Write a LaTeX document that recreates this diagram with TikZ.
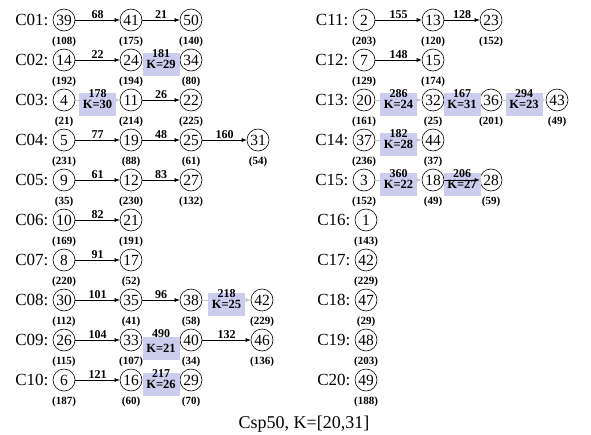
\documentclass[tikz,border=0pt]{standalone}
\usepackage{fontspec}
\setmainfont{Liberation Serif}
\usetikzlibrary{arrows.meta,positioning}
\definecolor{kfill}{RGB}{204,204,238}

\begin{document}
\begin{tikzpicture}[
  x=1pt, y=-1pt, line width=0.6pt,
  vtx/.style={draw, circle, minimum size=22pt, inner sep=0pt, font=\fontsize{15.5}{15.5}\selectfont,
    label={[cost]below:(#1)}},
  cost/.style={inner sep=1pt, label distance=4pt, font=\bfseries\fontsize{11}{11}\selectfont},
  rowlab/.style={inner sep=0pt, font=\fontsize{17}{17}\selectfont},
  arr/.style={-{Latex[length=5pt,width=4pt]}},
  garr/.style={arr, draw=gray!45},
  elab/.style={above, inner sep=1pt, font=\bfseries\fontsize{12}{12}\selectfont},
  klab/.style={above, inner sep=2.5pt, font=\bfseries\fontsize{12}{12}\selectfont},
  kbox/.style={fill=kfill, minimum width=37pt, minimum height=23pt, inner sep=0pt, yshift=-4pt,
    font=\bfseries\fontsize{12.5}{12.5}\selectfont}
]
\useasboundingbox (0,0) rectangle (591,434);

% Left column: C01 - C10
\node[vtx=108] (c01a) at (64,20) {39};
\node[vtx=175] (c01b) at (131,20) {41};
\node[vtx=140] (c01c) at (191,20) {50};

\node[vtx=192] (c02a) at (64,60) {14};
\node[vtx=194] (c02b) at (131,60) {24};
\node[vtx=80] (c02c) at (191,60) {34};

\node[vtx=21] (c03a) at (64,100) {4};
\node[vtx=214] (c03b) at (131,100) {11};
\node[vtx=225] (c03c) at (191,100) {22};

\node[vtx=231] (c04a) at (64,140) {5};
\node[vtx=88] (c04b) at (131,140) {19};
\node[vtx=61] (c04c) at (191,140) {25};
\node[vtx=54] (c04d) at (258,140) {31};

\node[vtx=35] (c05a) at (64,180) {9};
\node[vtx=230] (c05b) at (131,180) {12};
\node[vtx=132] (c05c) at (191,180) {27};

\node[vtx=169] (c06a) at (64,220) {10};
\node[vtx=191] (c06b) at (131,220) {21};

\node[vtx=220] (c07a) at (64,260) {8};
\node[vtx=52] (c07b) at (131,260) {17};

\node[vtx=112] (c08a) at (64,300) {30};
\node[vtx=41] (c08b) at (131,300) {35};
\node[vtx=58] (c08c) at (191,300) {38};
\node[vtx=229] (c08d) at (262,300) {42};

\node[vtx=115] (c09a) at (64,340) {26};
\node[vtx=107] (c09b) at (131,340) {33};
\node[vtx=34] (c09c) at (191,340) {40};
\node[vtx=136] (c09d) at (262,340) {46};

\node[vtx=187] (c10a) at (64,380) {6};
\node[vtx=60] (c10b) at (131,380) {16};
\node[vtx=70] (c10c) at (191,380) {29};

% Right column: C11 - C20
\node[vtx=203] (c11a) at (364,20) {2};
\node[vtx=120] (c11b) at (433,20) {13};
\node[vtx=152] (c11c) at (491,20) {23};

\node[vtx=129] (c12a) at (364,60) {7};
\node[vtx=174] (c12b) at (433,60) {15};

\node[vtx=161] (c13a) at (364,100) {20};
\node[vtx=25] (c13b) at (433,100) {32};
\node[vtx=201] (c13c) at (491,100) {36};
\node[vtx=49] (c13d) at (557,100) {43};

\node[vtx=236] (c14a) at (364,140) {37};
\node[vtx=37] (c14b) at (433,140) {44};

\node[vtx=152] (c15a) at (364,180) {3};
\node[vtx=49] (c15b) at (433,180) {18};
\node[vtx=59] (c15c) at (491,180) {28};

\node[vtx=143] (c16a) at (366,220) {1};
\node[vtx=229] (c17a) at (366,260) {42};
\node[vtx=29] (c18a) at (366,300) {47};
\node[vtx=203] (c19a) at (366,340) {48};
\node[vtx=188] (c20a) at (366,380) {49};

% Row labels
\foreach \r in {01,02,03,04,05,06,07,08,09,10,11,12,13,14,15,16,17,18,19,20}
  \node[rowlab, left=4pt of c\r a] (l\r) {C\r:};

% Plain edges
\draw[arr] (c01a) -- node[elab]{68} (c01b);
\draw[arr] (c01b) -- node[elab]{21} (c01c);
\draw[arr] (c02a) -- node[elab]{22} (c02b);
\draw[arr] (c03b) -- node[elab]{26} (c03c);
\draw[arr] (c04a) -- node[elab]{77} (c04b);
\draw[arr] (c04b) -- node[elab]{48} (c04c);
\draw[arr] (c04c) -- node[elab]{160} (c04d);
\draw[arr] (c05a) -- node[elab]{61} (c05b);
\draw[arr] (c05b) -- node[elab]{83} (c05c);
\draw[arr] (c06a) -- node[elab]{82} (c06b);
\draw[arr] (c07a) -- node[elab]{91} (c07b);
\draw[arr] (c08a) -- node[elab]{101} (c08b);
\draw[arr] (c08b) -- node[elab]{96} (c08c);
\draw[arr] (c09a) -- node[elab]{104} (c09b);
\draw[arr] (c09c) -- node[elab]{132} (c09d);
\draw[arr] (c10a) -- node[elab]{121} (c10b);
\draw[arr] (c11a) -- node[elab]{155} (c11b);
\draw[arr] (c11b) -- node[elab]{128} (c11c);
\draw[arr] (c12a) -- node[elab]{148} (c12b);

% Edges with K boxes
\draw[garr] (c02b) -- node[kbox]{K=29} node[klab]{181} (c02c);
\draw[garr] (c03a) -- node[kbox]{K=30} node[klab]{178} (c03b);
\draw[garr] (c08c) -- node[kbox]{K=25} node[klab]{218} (c08d);
\draw[garr] (c09b) -- node[kbox, yshift=-4pt]{K=21} node[klab]{490} (c09c);
\draw[garr] (c10b) -- node[kbox]{K=26} node[klab]{217} (c10c);
\draw[garr] (c13a) -- node[kbox]{K=24} node[klab]{286} (c13b);
\draw[garr] (c13b) -- node[kbox]{K=31} node[klab]{167} (c13c);
\draw[garr] (c13c) -- node[kbox]{K=23} node[klab]{294} (c13d);
\draw[garr] (c14a) -- node[kbox]{K=28} node[klab]{182} (c14b);
\draw[garr] (c15a) -- node[kbox]{K=22} node[klab]{360} (c15b);
\path (c15b) -- node[kbox]{K=27} (c15c);
\draw[arr] (c15b) -- node[klab]{206} (c15c);

% Caption
\node[font=\fontsize{18}{18}\selectfont] (cap) at (304,424) {Csp50, K=[20,31]};

\end{tikzpicture}
\end{document}
